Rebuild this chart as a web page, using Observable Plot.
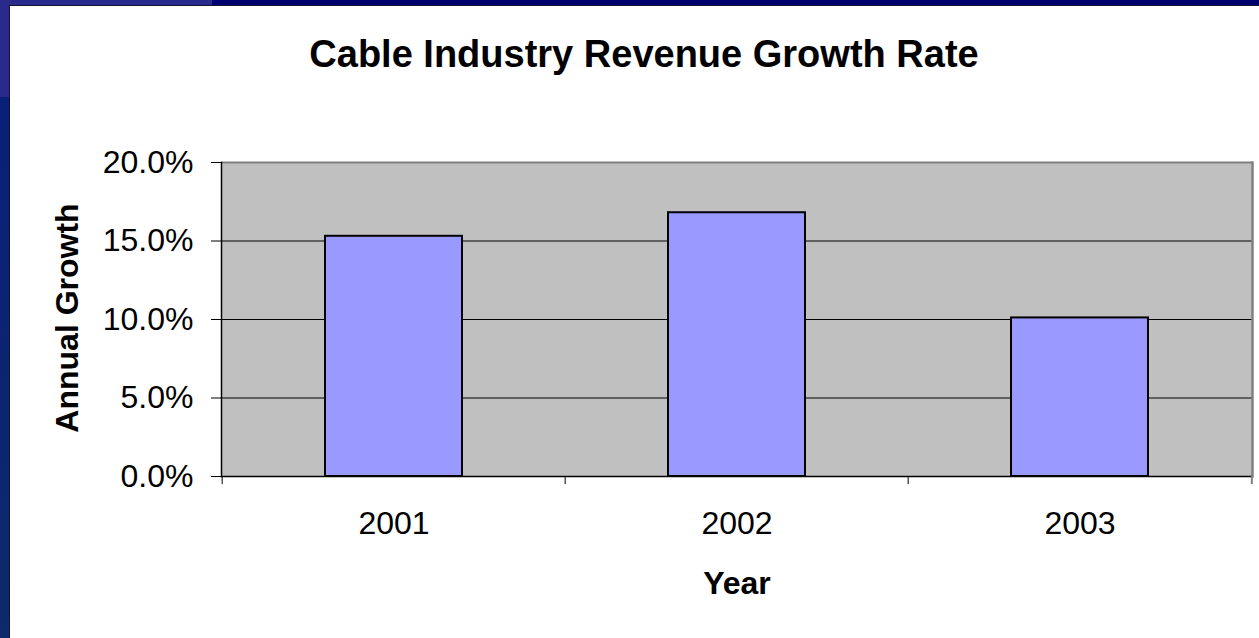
<!DOCTYPE html>
<html><head><meta charset="utf-8">
<script src="https://cdn.jsdelivr.net/npm/d3@7"></script>
<script src="https://cdn.jsdelivr.net/npm/@observablehq/plot@0.6"></script>
<style>
html,body{margin:0;padding:0;background:#fff;overflow:hidden}
#wrap{position:relative;width:1259px;height:638px;background:#fff}
.f{position:absolute}
#chart{position:absolute;left:0;top:0}
</style></head><body>
<div id="wrap">
  <div class="f" style="left:0;top:0;width:212px;height:5px;background:#2a2a8c"></div>
  <div class="f" style="left:212px;top:0;width:1047px;height:5px;background:#000070"></div>
  <div class="f" style="left:0;top:5px;width:1259px;height:1px;background:#141430"></div>
  <div class="f" style="left:0;top:0;width:9px;height:97px;background:#2a2a8c"></div>
  <div class="f" style="left:0;top:97px;width:9px;height:541px;background:linear-gradient(#0a1f78,#0c2a6c)"></div>
  <div class="f" style="left:9px;top:5px;width:1px;height:633px;background:#141430"></div>
  <div id="chart"></div>
</div>
<script>
const years = ["2001", "2002", "2003"];
const growth = [0.153, 0.168, 0.101];
const yTicks = [0, 0.05, 0.10, 0.15, 0.20];
const titleText = "Cable Industry Revenue Growth Rate";
const yLabel = "Annual Growth";
const xLabel = "Year";

const data = years.map((year, i) => ({year, growth: growth[i]}));
const W = 1259, H = 638, mL = 221, mR = 7, mT = 162, mB = 162;
const step = (W - mL - mR) / years.length;
const font = "Liberation Sans, Arial, Helvetica, sans-serif";

const plot = Plot.plot({
  width: W, height: H,
  marginLeft: mL, marginRight: mR, marginTop: mT, marginBottom: mB,
  style: {background: "transparent", fontFamily: font, color: "#000", overflow: "visible"},
  x: {domain: years, paddingInner: 0.6, paddingOuter: 0.3, label: null},
  y: {domain: [0, 0.2], label: null},
  marks: [
    Plot.frame({fill: "#c0c0c0", stroke: null}),
    Plot.gridY(yTicks.slice(1, -1), {stroke: "#000", strokeOpacity: 1, strokeWidth: 1}),
    Plot.ruleY([0.2], {stroke: "#808080", strokeWidth: 2}),
    Plot.frame({anchor: "right", stroke: "#808080", strokeWidth: 2.5}),
    Plot.barY(data, {x: "year", y: "growth", fill: "#9999ff", stroke: "#000", strokeWidth: 2}),
    Plot.frame({anchor: "left", stroke: "#000", strokeWidth: 1.5}),
    Plot.ruleY([0], {stroke: "#000", strokeWidth: 1.5}),
    Plot.ruleX(years, {x: d => d, dx: -step / 2, y1: 0, y2: -0.0052, stroke: "#000", strokeWidth: 1}),
    Plot.ruleX(years.slice(-1), {x: d => d, dx: step / 2, y1: 0, y2: -0.0052, stroke: "#808080", strokeWidth: 2}),
    Plot.axisY(yTicks, {tickFormat: d3.format(".1%"), fontSize: 32, tickSize: 10, tickPadding: 18, label: null, stroke: "#000"}),
    Plot.axisX({tickSize: 0, tickPadding: 35, fontSize: 32, label: null}),
    Plot.text([titleText], {text: d => d, frameAnchor: "top", dx: -93, dy: -108, fontSize: 38, fontWeight: "bold", textAnchor: "middle", lineAnchor: "middle", fill: "#000"}),
    Plot.text([yLabel], {text: d => d, frameAnchor: "left", dx: -154, dy: -1.5, rotate: -90, fontSize: 32, fontWeight: "bold", textAnchor: "middle", lineAnchor: "middle", fill: "#000"}),
    Plot.text([xLabel], {text: d => d, frameAnchor: "bottom", dy: 107, fontSize: 32, fontWeight: "bold", textAnchor: "middle", lineAnchor: "middle", fill: "#000"})
  ]
});
document.getElementById("chart").appendChild(plot);
</script>
</body></html>
